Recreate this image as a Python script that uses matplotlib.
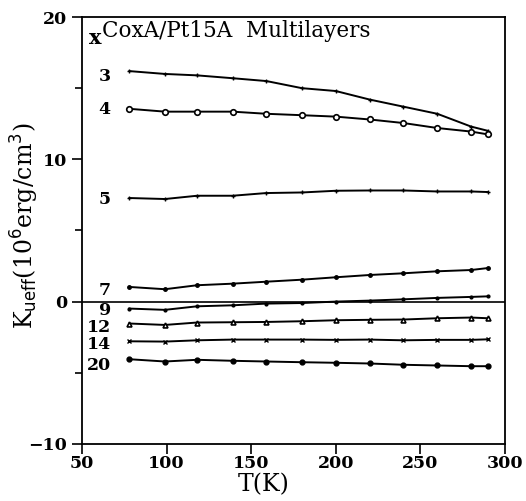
import matplotlib.pyplot as plt
import numpy as np

plt.rcParams['font.family'] = 'DejaVu Serif'

T = [78, 99, 118, 139, 159, 180, 200, 220, 240, 260, 280, 290]

k3 = [16.2, 16.0, 15.9, 15.7, 15.5, 15.0, 14.8, 14.2, 13.7, 13.2, 12.3, 12.0]
k4 = [13.55, 13.35, 13.35, 13.35, 13.2, 13.1, 13.0, 12.8, 12.55, 12.2, 11.95, 11.75]
k5 = [7.28, 7.21, 7.44, 7.44, 7.63, 7.67, 7.79, 7.81, 7.81, 7.74, 7.74, 7.70]
k7 = [1.03, 0.87, 1.15, 1.26, 1.40, 1.54, 1.71, 1.87, 1.99, 2.13, 2.22, 2.36]
k9 = [-0.49, -0.58, -0.33, -0.26, -0.14, -0.10, 0.0, 0.07, 0.16, 0.26, 0.33, 0.37]
k12 = [-1.54, -1.64, -1.47, -1.45, -1.43, -1.38, -1.31, -1.28, -1.26, -1.17, -1.12, -1.17]
k14 = [-2.79, -2.81, -2.72, -2.67, -2.67, -2.67, -2.69, -2.67, -2.72, -2.69, -2.69, -2.65]
k20 = [-4.05, -4.21, -4.09, -4.16, -4.21, -4.26, -4.30, -4.35, -4.44, -4.49, -4.54, -4.54]

labels = ['3', '4', '5', '7', '9', '12', '14', '20']
label_y = [15.8, 13.5, 7.2, 0.77, -0.63, -1.82, -3.05, -4.49]

fig = plt.figure(figsize=(5.26, 5.01), dpi=100)
ax = fig.add_axes([0.156, 0.114, 0.804, 0.852])

lw = 1.4
ax.plot(T, k3, '-', color='black', lw=lw, marker='+', ms=3.5)
ax.plot(T, k4, '-', color='black', lw=lw, marker='o', ms=4, mfc='white', mew=1.2)
ax.plot(T, k5, '-', color='black', lw=lw, marker='+', ms=3.5)
ax.plot(T, k7, '-', color='black', lw=lw, marker='o', ms=2.5)
ax.plot(T, k9, '-', color='black', lw=lw, marker='o', ms=2)
ax.plot(T, k12, '-', color='black', lw=lw, marker='^', ms=3.5, mfc='white', mew=1.2)
ax.plot(T, k14, '-', color='black', lw=lw, marker='x', ms=3)
ax.plot(T, k20, '-', color='black', lw=lw, marker='o', ms=3.5)

ax.axhline(0, color='black', lw=1.2)

for lab, yy in zip(labels, label_y):
    ax.text(67, yy, lab, fontsize=12.5, ha='right', va='center', fontweight='bold')

ax.text(54, 18.1, 'x', fontsize=15, va='baseline', fontweight='bold')
ax.text(62, 18.6, 'CoxA/Pt15A  Multilayers', fontsize=15.5, va='baseline')

ax.set_xlim(50, 300)
ax.set_ylim(-10, 20)
ax.set_xticks([50, 100, 150, 200, 250, 300])
ax.set_yticks([-10, 0, 10, 20])
ax.set_yticks([-5, 5, 15], minor=True)
ax.tick_params(axis='both', direction='out', length=7, width=1.2, labelsize=12.5)
ax.tick_params(axis='x', pad=1)
ax.tick_params(axis='y', which='minor', direction='out', length=5, width=1.2)
for lab in ax.get_xticklabels() + ax.get_yticklabels():
    lab.set_fontweight('bold')
for s in ax.spines.values():
    s.set_linewidth(1.3)

ax.set_xlabel('T(K)', fontsize=17)
ax.xaxis.set_label_coords(0.43, -0.069)
ax.set_ylabel(r'K$_{\mathrm{ueff}}$(10$^6$erg/cm$^3$)', fontsize=17)
ax.yaxis.set_label_coords(-0.098, 0.51)

plt.savefig('out.png', dpi=100)
